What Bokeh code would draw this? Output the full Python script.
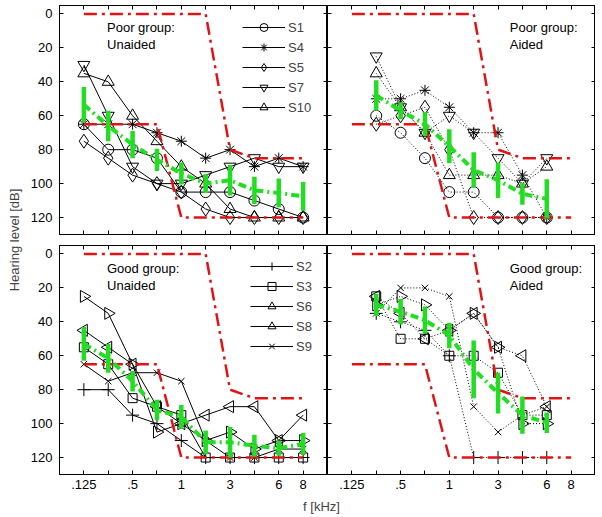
import math
from bokeh.plotting import figure
from bokeh.layouts import row, column
from bokeh.models import FixedTicker, LinearAxis, Range1d, Label, Legend, LegendItem
from bokeh.embed import file_html
from bokeh.resources import INLINE

FONT = "Liberation Sans"
GREEN = "#22dd22"
RED = "#e01414"

# ---------------- data ----------------
freq_labels = [".125", ".25", ".5", ".75", "1", "2", "3", "4", "6", "8"]
shown_labels = [".125", ".5", "1", "3", "6", "8"]
aided_freqs = [".25", ".5", ".75", "1", "2", "3", "4", "6"]
y_ticks = [0, 20, 40, 60, 80, 100, 120]

# red target envelope (upper / lower)
upper_env_f = [".125", "2", "3", "4", "8"]
upper_env_db = [0, 0, 80, 85, 85]
lower_env_f = [".125", ".75", "1", "8"]
lower_env_db = [65, 65, 120, 120]

# Poor group, unaided
pu_s1 = [65, 80, 80, 85, 105, 105, 105, 110, 115, 120]
pu_s4 = [65, 65, 65, 70, 75, 85, 80, 90, 85, 90]
pu_s5 = [75, 85, 95, 100, 105, 115, 120, 120, 120, 120]
pu_s7 = [30, 60, 90, 100, 100, 95, 90, 85, 90, 90]
pu_s10 = [35, 40, 60, 75, 90, 100, 115, 120, 120, 120]
pu_mean = [53.5, 66, 77, 86, 94, 100, 98, 104, 105.5, 107.5]
pu_err = [10.5, 9, 8, 6.5, 6.5, 5.5, 9, 8, 8.5, 8.5]

# Poor group, aided
pa_s1 = [60, 70, 85, 105, 105, 120, 120, 120]
pa_s4 = [50, 50, 45, 55, 70, 70, 95, 120]
pa_s5 = [65, 60, 55, 80, 120, 120, 120, 120]
pa_s7 = [25, 55, 70, 60, 70, 85, 100, 85]
pa_s10 = [35, 55, 70, 95, 95, 95, 100, 90]
pa_mean = [48, 57, 65, 78, 92, 98, 106, 109]
pa_err = [9, 5, 7, 10, 10.5, 10.5, 6.5, 11.5]

# Good group, unaided
gu_s2 = [80, 80, 95, 100, 110, 120, 120, 120, 120, 120]
gu_s3 = [55, 65, 85, 90, 95, 120, 120, 120, 120, 120]
gu_s6 = [25, 35, 65, 105, 100, 110, 105, 115, 110, 110]
gu_s8 = [45, 55, 65, 90, 100, 95, 90, 90, 110, 95]
gu_s9 = [65, 75, 70, 70, 75, 110, 120, 120, 115, 115]
gu_mean = [53, 61.5, 75, 92, 96, 111, 111, 113, 114.5, 112]
gu_err = [10, 8.5, 6, 6, 7, 7, 9, 6.5, 4.5, 6.5]

# Good group, aided
ga_s2 = [35, 40, 45, 60, 120, 120, 120, 120]
ga_s3 = [25, 50, 50, 60, 60, 70, 95, 95]
ga_s6 = [30, 25, 30, 45, 35, 55, 100, 100]
ga_s8 = [25, 35, 50, 45, 35, 55, 60, 90]
ga_s9 = [35, 20, 20, 25, 90, 105, 95, 90]
ga_mean = [30, 34, 39, 48, 68, 82, 95, 99.5]
ga_err = [6.5, 7.5, 8, 7.5, 17, 12, 11, 6]

poor_names = ["S1", "S4", "S5", "S7", "S10"]
good_names = ["S2", "S3", "S6", "S8", "S9"]

# ---------------- styling ----------------
poor_markers = [("circle", 11, 0), ("asterisk", 11, 0), ("diamond", 14, 0),
                ("inverted_triangle", 12, 0), ("triangle", 12, 0)]
good_markers = [("cross", 13, 0), ("square", 9, 0), ("triangle", 12, -math.pi / 2),
                ("triangle", 12, math.pi / 2), ("x", 9, 0)]

FW, FH = 268, 229
TOP = 5
GAP_A, GAP_B = 5, 6
BOT = 22
YLAB_W = 24


def pos(labels):
    return [freq_labels.index(f) for f in labels]


def style_axis(ax, labels_on, ticks, horizontal, overrides=None):
    ax.ticker = FixedTicker(ticks=ticks)
    ax.major_tick_in = 4
    ax.major_tick_out = 0
    ax.minor_tick_in = 0
    ax.minor_tick_out = 0
    ax.axis_line_color = "black"
    ax.major_tick_line_color = "black"
    ax.major_label_text_font = FONT
    ax.major_label_text_color = "black"
    ax.major_label_text_font_size = "13px"
    if labels_on:
        if overrides is not None:
            ax.major_label_overrides = overrides
        ax.major_label_standoff = 5 if horizontal else 7
    else:
        ax.major_label_overrides = {t: "" for t in ticks}
        ax.major_label_standoff = 0
        if horizontal:
            ax.major_label_orientation = "vertical"


x_over = {i: (lab if lab in shown_labels else "") for i, lab in enumerate(freq_labels)}
x_ticks = list(range(len(freq_labels)))


def make_panel(is_left, is_top):
    p = figure(frame_width=FW, frame_height=FH,
               x_range=Range1d(-1, len(freq_labels)), y_range=Range1d(130, -5),
               toolbar_location=None, output_backend="svg",
               min_border_left=(59 - YLAB_W) if is_left else 0, min_border_right=0,
               min_border_top=TOP if is_top else GAP_B,
               min_border_bottom=GAP_A if is_top else BOT,
               outline_line_color="black", outline_line_width=1,
               background_fill_color="white", border_fill_color="white")
    p.grid.visible = False
    style_axis(p.xaxis[0], not is_top, x_ticks, True, x_over)
    style_axis(p.yaxis[0], is_left, y_ticks, False)
    ax_top = LinearAxis()
    style_axis(ax_top, False, x_ticks, True)
    p.add_layout(ax_top, "above")
    ax_r = LinearAxis()
    style_axis(ax_r, False, y_ticks, False)
    p.add_layout(ax_r, "right")
    return p


def draw(p, xs, series, names, markers, dash, legend_loc=None):
    items = []
    for vals, name, (mk, sz, ang) in zip(series, names, markers):
        lr = p.line(xs, vals, line_color="black", line_width=1, line_dash=dash)
        sr = p.scatter(xs, vals, marker=mk, size=sz, angle=ang, line_color="black",
                       fill_color=None, line_width=1)
        items.append(LegendItem(label=name, renderers=[lr, sr]))
    # red envelope
    p.line(pos(upper_env_f), upper_env_db, line_color=RED, line_width=2.5, line_dash="13 5 3 5")
    p.line(pos(lower_env_f), lower_env_db, line_color=RED, line_width=2.5, line_dash="13 5 3 5")
    if legend_loc is not None:
        lg = Legend(items=items, location=legend_loc, border_line_color=None,
                    background_fill_alpha=0, label_text_font=FONT,
                    label_text_font_size="13px", glyph_width=43, glyph_height=20,
                    label_height=20, spacing=0, padding=0, margin=0, label_standoff=3)
        p.add_layout(lg)


def draw_mean(p, xs, mean, err):
    lo = [m - e for m, e in zip(mean, err)]
    hi = [m + e for m, e in zip(mean, err)]
    p.line(xs, mean, line_color=GREEN, line_width=4, line_dash="8 4 2 4")
    p.segment(x0=xs, y0=lo, x1=xs, y1=hi, line_color=GREEN, line_width=4.5)


def add_text(p, x, y, lines):
    for i, t in enumerate(lines):
        p.add_layout(Label(x=x, y=y + 9.8 * i, text=t, text_font=FONT, text_font_size="13px",
                           text_baseline="middle", text_color="black"))


xs_all = list(range(len(freq_labels)))
xs_aid = pos(aided_freqs)

tl = make_panel(True, True)
draw(tl, xs_all, [pu_s1, pu_s4, pu_s5, pu_s7, pu_s10], poor_names, poor_markers, "solid", (183, 117))
draw_mean(tl, xs_all, pu_mean, pu_err)
add_text(tl, 0.95, 8, ["Poor group:", "Unaided"])

tr = make_panel(False, True)
draw(tr, xs_aid, [pa_s1, pa_s4, pa_s5, pa_s7, pa_s10], poor_names, poor_markers, "1 2")
draw_mean(tr, xs_aid, pa_mean, pa_err)
add_text(tr, 6.48, 8, ["Poor group:", "Aided"])

bl = make_panel(True, False)
draw(bl, xs_all, [gu_s2, gu_s3, gu_s6, gu_s8, gu_s9], good_names, good_markers, "solid", (191, 118))
draw_mean(bl, xs_all, gu_mean, gu_err)
add_text(bl, 0.95, 8.5, ["Good group:", "Unaided"])

br = make_panel(False, False)
draw(br, xs_aid, [ga_s2, ga_s3, ga_s6, ga_s8, ga_s9], good_names, good_markers, "1 2")
draw_mean(br, xs_aid, ga_mean, ga_err)
add_text(br, 6.48, 8.5, ["Good group:", "Aided"])

# common axis labels
total_h = TOP + FH + GAP_A + GAP_B + FH + BOT
ylab = figure(width=YLAB_W, height=total_h, title="Hearing level [dB]", title_location="left",
              toolbar_location=None, output_backend="svg", min_border_left=YLAB_W - 3,
              min_border_right=0, min_border_top=TOP, min_border_bottom=BOT,
              outline_line_color=None)
ylab.axis.visible = False
ylab.grid.visible = False
ylab.title.align = "center"
ylab.title.text_font = FONT
ylab.title.text_font_size = "13px"
ylab.title.text_font_style = "normal"
ylab.title.standoff = 0
ylab.scatter([0], [0], alpha=0)

xlab = figure(width=59 + 2 * FW, height=22, title="f [kHz]", title_location="above",
              toolbar_location=None, output_backend="svg", min_border_left=47,
              min_border_right=0, min_border_top=0, min_border_bottom=0,
              outline_line_color=None)
xlab.axis.visible = False
xlab.grid.visible = False
xlab.title.align = "center"
xlab.title.text_font = FONT
xlab.title.text_font_size = "13px"
xlab.title.text_font_style = "normal"
xlab.title.standoff = 0
xlab.scatter([0], [0], alpha=0)

grid = column(row(tl, tr), row(bl, br))
layout = column(row(ylab, grid), xlab)

open("out.html", "w").write(file_html(layout, INLINE))
